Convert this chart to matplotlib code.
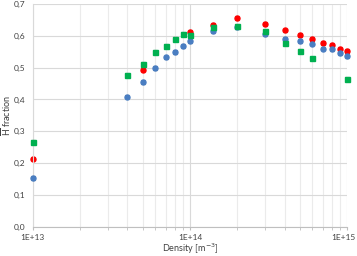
import numpy as np
import matplotlib.pyplot as plt
import matplotlib.transforms as mtrans
from matplotlib.ticker import FixedLocator, LogLocator, NullFormatter

# ---------------- DATA ----------------
density = [1e13, 4e13, 5e13, 6e13, 7e13, 8e13, 9e13, 1e14, 1.4e14, 2e14,
           3e14, 4e14, 5e14, 6e14, 7e14, 8e14, 9e14, 1e15]
nan = np.nan
blue = [0.153, 0.409, 0.454, 0.498, 0.532, 0.550, 0.569, 0.584, 0.614, 0.627,
        0.606, 0.591, 0.584, 0.576, 0.560, 0.558, 0.547, 0.537]
red = [0.214, nan, 0.494, nan, nan, nan, nan, 0.612, 0.635, 0.657,
       0.638, 0.617, 0.602, 0.591, 0.578, 0.571, 0.559, 0.552]
green = [0.266, 0.477, 0.512, 0.548, 0.569, 0.590, 0.605, 0.604, 0.628, 0.630,
         0.614, 0.578, 0.553, 0.529, nan, nan, nan, 0.464]
err = 0.006

y_ticks = [0.0, 0.1, 0.2, 0.3, 0.4, 0.5, 0.6, 0.7]
x_ticks = [1e13, 1e14, 1e15]
x_labels = ["1E+13", "1E+14", "1E+15"]

# ---------------- PLOT ----------------
plt.rcParams['font.family'] = ['Lato', 'DejaVu Sans']
fig = plt.figure(figsize=(3.57, 2.56), dpi=100)
ax = fig.add_axes([0.0916, 0.115, 0.8813, 0.869])

series = [(blue, '#4A7EC2', 'o', 3), (red, '#FF0000', 'o', 2), (green, '#00B050', 's', 4)]
for vals, col, mk, z in series:
    cont = ax.errorbar(density, vals, yerr=err, fmt=mk, color=col, ms=3.6,
                       ecolor='#404040', elinewidth=0.8, capsize=1.5, capthick=0.8, zorder=z)
    for art in cont.get_children():
        art.set_clip_on(False)

ax.set_xscale('log')
ax.set_xlim(1e13, 1e15)
ax.set_ylim(0, 0.7)

ax.xaxis.set_major_locator(FixedLocator(x_ticks))
ax.set_xticklabels(x_labels)
ax.xaxis.set_minor_locator(LogLocator(base=10, subs=np.arange(2, 10)))
ax.xaxis.set_minor_formatter(NullFormatter())
ax.set_yticks(y_ticks)
ax.set_yticklabels([f"{v:.1f}".replace('.', ',') for v in y_ticks])

ax.grid(True, which='major', color='#D9D9D9', lw=0.8)
ax.grid(True, which='minor', axis='x', color='#EBEBEB', lw=0.8)
ax.set_axisbelow(True)

for s in ['top', 'right']:
    ax.spines[s].set_visible(False)
ax.spines['left'].set_color('#D9D9D9')
ax.spines['bottom'].set_color('#BFBFBF')
ax.tick_params(axis='y', length=0, labelsize=6, pad=5, colors='#404040')
ax.tick_params(axis='x', which='both', length=2.5, color='#BFBFBF',
               labelsize=6, pad=3, labelcolor='#404040')

# last x label sits against the right edge, nudge it left a little
last = ax.get_xticklabels()[-1]
last.set_transform(last.get_transform() + mtrans.ScaledTranslation(-3 / 72, 0, fig.dpi_scale_trans))

ax.set_xlabel("Density [m$^{-3}$]", fontsize=6.5, color='#404040', labelpad=0)
ax.set_ylabel(r"$\overline{\mathrm{H}}$ fraction", fontsize=6.5, color='#404040', labelpad=1)

plt.savefig("out.png", dpi=100)
